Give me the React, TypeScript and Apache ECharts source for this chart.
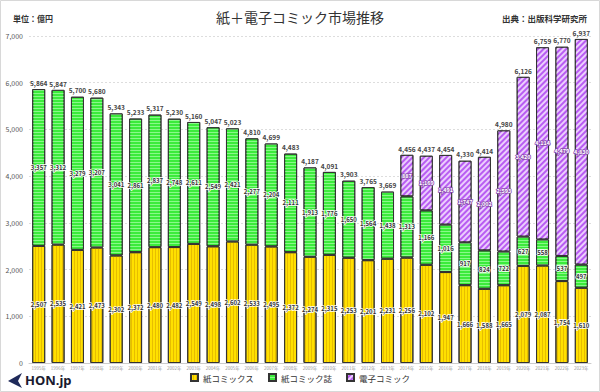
import React, { useEffect, useRef } from "react";
import * as echarts from "echarts";

const years = [
  "1995", "1996", "1997", "1998", "1999", "2000", "2001", "2002", "2003", "2004",
  "2005", "2006", "2007", "2008", "2009", "2010", "2011", "2012", "2013", "2014",
  "2015", "2016", "2017", "2018", "2019", "2020", "2021", "2022", "2023",
];
const paperComics = [
  2507, 2535, 2421, 2473, 2302, 2372, 2480, 2482, 2549, 2498,
  2602, 2533, 2495, 2372, 2274, 2315, 2253, 2201, 2231, 2256,
  2102, 1947, 1666, 1588, 1665, 2079, 2087, 1754, 1610,
];
const paperMagazines = [
  3357, 3312, 3279, 3207, 3041, 2861, 2837, 2748, 2611, 2549,
  2421, 2277, 2204, 2111, 1913, 1776, 1650, 1564, 1438, 1313,
  1166, 1016, 917, 824, 722, 627, 558, 537, 497,
];
const digitalComics: (number | null)[] = [
  null, null, null, null, null, null, null, null, null, null,
  null, null, null, null, null, null, null, null, null, 887,
  1169, 1491, 1747, 2002, 2593, 3420, 4114, 4479, 4830,
];
const yTicks = [0, 1000, 2000, 3000, 4000, 5000, 6000, 7000];

const fmt = (v: number) => v.toLocaleString("en-US");

export default function App() {
  const ref = useRef<HTMLDivElement>(null);
  useEffect(() => {
    document.body.style.margin = "0";
    if (!ref.current) return;
    const chart = echarts.init(ref.current, undefined, { renderer: "svg" });
    const totals = years.map(
      (_, i) => paperComics[i] + paperMagazines[i] + (digitalComics[i] || 0)
    );
    const segLabel = {
      show: true,
      position: "inside" as const,
      fontSize: 6,
      fontWeight: "bold" as const,
      color: "#333",
      textBorderColor: "#fff",
      textBorderWidth: 1.5,
      fontFamily: "Noto Sans CJK JP",
      formatter: (p: any) => fmt(p.value),
    };
    chart.setOption({
      animation: false,
      backgroundColor: "#fff",
      textStyle: { fontFamily: "Noto Sans CJK JP" },
      title: [
        {
          text: "紙＋電子コミック市場推移",
          left: "center",
          top: 5,
          textStyle: { fontSize: 14, fontWeight: "normal", color: "#333" },
        },
        {
          text: "単位：億円",
          left: 8,
          top: 9,
          textStyle: { fontSize: 8, fontWeight: "bold", color: "#333" },
        },
        {
          text: "出典：出版科学研究所",
          right: 8,
          top: 9,
          textStyle: { fontSize: 8.5, fontWeight: "bold", color: "#333" },
        },
      ],
      legend: {
        data: ["紙コミックス", "紙コミック誌", "電子コミック"],
        bottom: 5,
        left: "center",
        icon: "rect",
        itemWidth: 7,
        itemHeight: 7,
        itemGap: 14,
        textStyle: { fontSize: 8.5, color: "#333" },
      },
      grid: { left: 29, right: 9, top: 36, bottom: 29, containLabel: false },
      xAxis: {
        type: "category",
        data: years,
        axisTick: { show: false },
        axisLine: { lineStyle: { color: "#ccc" } },
        axisLabel: {
          interval: 0,
          fontSize: 4.5,
          color: "#999",
          margin: 3,
          formatter: (v: string) => v + "年",
        },
      },
      yAxis: {
        type: "value",
        min: yTicks[0],
        max: yTicks[yTicks.length - 1],
        interval: 1000,
        axisLine: { show: false },
        axisTick: { show: false },
        axisLabel: { fontSize: 7, color: "#555", margin: 6, formatter: (v: number) => fmt(v) },
        splitLine: { lineStyle: { color: "#ddd", type: [2, 2] } },
      },
      series: [
        {
          name: "紙コミックス",
          type: "bar",
          stack: "a",
          barWidth: 13,
          data: paperComics,
          itemStyle: {
            color: "#FFE000",
            borderColor: "#333",
            borderWidth: 1,
            decal: {
              symbol: "rect",
              symbolSize: 1,
              color: "rgba(210,160,0,0.55)",
              dashArrayX: [1, 0],
              dashArrayY: [1, 2],
              rotation: Math.PI / 2,
            },
          },
          label: segLabel,
        },
        {
          name: "紙コミック誌",
          type: "bar",
          stack: "a",
          barWidth: 13,
          data: paperMagazines,
          itemStyle: {
            color: "#3CEB3C",
            borderColor: "#333",
            borderWidth: 1,
            decal: {
              symbol: "rect",
              symbolSize: 1,
              color: "rgba(170,255,170,0.7)",
              dashArrayX: [1, 0],
              dashArrayY: [1, 2],
              rotation: 0,
            },
          },
          label: segLabel,
        },
        {
          name: "電子コミック",
          type: "bar",
          stack: "a",
          barWidth: 13,
          data: digitalComics.map((v) => (v === null ? "-" : v)),
          itemStyle: {
            color: "#B85CF2",
            borderColor: "#333",
            borderWidth: 1,
            decal: {
              symbol: "rect",
              symbolSize: 1,
              color: "rgba(245,225,255,0.85)",
              dashArrayX: [1, 0],
              dashArrayY: [2, 2],
              rotation: -Math.PI / 4,
            },
          },
          label: {
            ...segLabel,
            fontSize: 5.5,
            color: "#fff",
            textBorderColor: "#8a4ab0",
            textBorderWidth: 1.5,
          },
        },
        {
          name: "合計",
          type: "bar",
          stack: "a",
          barWidth: 13,
          data: years.map(() => 0),
          itemStyle: { color: "transparent", borderWidth: 0 },
          label: {
            show: true,
            position: "top",
            distance: 3,
            fontSize: 6.5,
            fontWeight: "bold",
            color: "#444",
            formatter: (p: any) => fmt(totals[p.dataIndex]),
          },
          tooltip: { show: false },
        },
      ],
      graphic: [
        {
          type: "rect",
          shape: { x: 0.5, y: 0.5, width: 599, height: 391 },
          style: { fill: "none", stroke: "#d8d8d8", lineWidth: 1 },
          silent: true,
        },
        {
          type: "polygon",
          shape: { points: [[22, 373], [8, 381], [22, 388], [18, 381]] },
          style: { fill: "#1f2a5a" },
        },
        {
          type: "text",
          left: 25,
          top: 373,
          style: {
            text: "HON.jp",
            font: "bold 13px 'Noto Sans', sans-serif",
            fill: "#1a1a2e",
          },
        },
      ],
    });
    return () => chart.dispose();
  }, []);
  return <div ref={ref} style={{ width: 600, height: 392 }} />;
}
